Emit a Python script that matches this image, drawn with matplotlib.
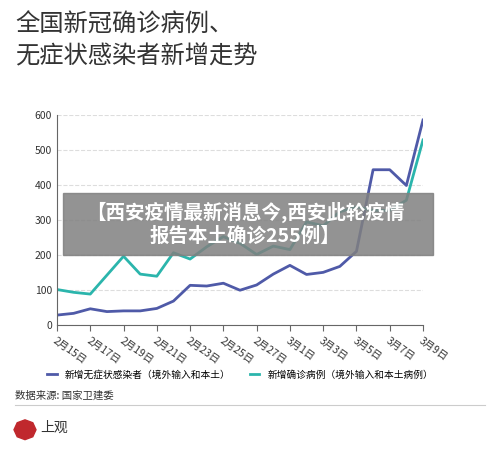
import matplotlib
matplotlib.use("Agg")
import matplotlib.pyplot as plt
from matplotlib.patches import Rectangle, RegularPolygon

plt.rcParams['font.family'] = ['Noto Sans CJK SC', 'DejaVu Sans']

dates = ["2月15日","2月16日","2月17日","2月18日","2月19日","2月20日","2月21日","2月22日","2月23日","2月24日","2月25日","2月26日","2月27日","2月28日","3月1日","3月2日","3月3日","3月4日","3月5日","3月6日","3月7日","3月8日","3月9日"]
asym = [28,33,46,38,40,40,47,68,113,111,119,99,114,145,170,144,150,167,210,443,443,398,585]
conf = [101,93,88,142,196,145,139,206,188,223,252,233,201,225,215,294,283,323,337,327,327,356,528]
yticks = [0,100,200,300,400,500,600]

fig = plt.figure(figsize=(5,4.5), dpi=100)
fig.text(0.03, 0.975, "全国新冠确诊病例、\n无症状感染者新增走势", fontsize=17.5, va='top', color='#333333', linespacing=1.3)
ax = fig.add_axes([0.114, 0.278, 0.732, 0.467])
x = range(len(dates))
ax.plot(x, asym, color='#4f5aa8', lw=2, label='新增无症状感染者（境外输入和本土）')
ax.plot(x, conf, color='#2bb5ac', lw=2, label='新增确诊病例（境外输入和本土病例）')
ax.set_xlim(0, len(dates)-1)
ax.set_ylim(0, 600)
ax.set_yticks(yticks)
ax.set_xticks(list(x)[::2])
ax.set_xticklabels(dates[::2], rotation=-35, ha='left', rotation_mode='anchor', fontsize=7.5, color='#333333')
ax.tick_params(axis='y', labelsize=7.5, colors='#333333', length=0)
ax.tick_params(axis='x', length=4, color='#666666')
ax.grid(axis='y', ls='--', color='#dddddd', lw=0.8)
for s in ['top','right']:
    ax.spines[s].set_visible(False)
ax.spines['left'].set_color('#666666')
ax.spines['bottom'].set_color('#666666')
ax.legend(loc='upper center', bbox_to_anchor=(0.5, -0.17), ncol=2, frameon=False, fontsize=7, handlelength=1, columnspacing=2)

fig.patches.append(Rectangle((0.126, 0.433), 0.74, 0.138, transform=fig.transFigure, color='#808080', alpha=0.85, zorder=5))
fig.text(0.49, 0.502, "【西安疫情最新消息今,西安此轮疫情\n报告本土确诊255例】", ha='center', va='center', fontsize=14, color='white', fontweight='bold', zorder=6, linespacing=1.25)

fig.text(0.03, 0.12, "数据来源: 国家卫建委", fontsize=7.5, color='#333333', va='center')
fig.add_artist(plt.Line2D([0.03, 0.97], [0.1, 0.1], color='#cccccc', lw=0.8, transform=fig.transFigure))
fig.patches.append(RegularPolygon((0.05, 0.045), 8, radius=0.022, transform=fig.transFigure, color='#c0282d'))
fig.text(0.08, 0.05, "上观", fontsize=10, color='#333333', va='center')
fig.savefig("out.png")
